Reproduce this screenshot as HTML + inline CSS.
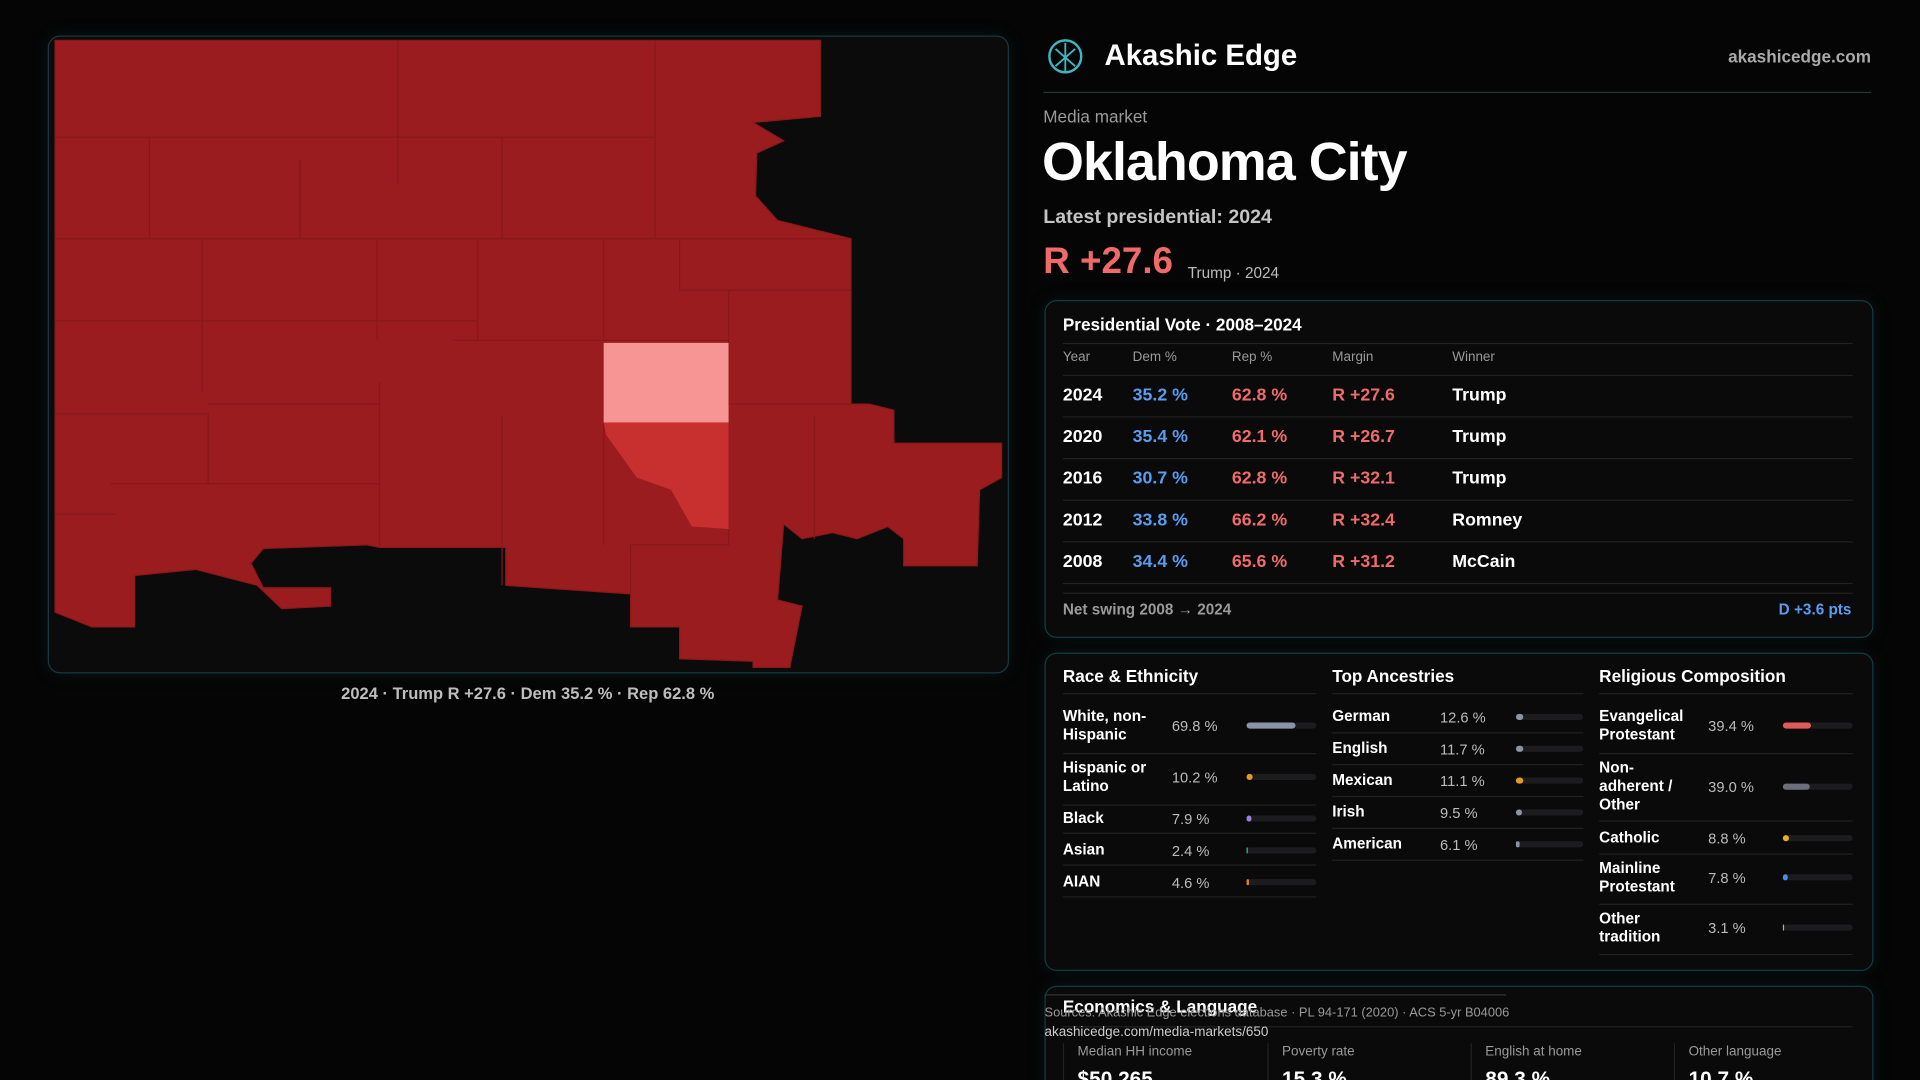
<!DOCTYPE html>
<html><head><meta charset="utf-8"><style>
html,body{margin:0;padding:0;background:#050505;overflow:hidden;width:1920px;height:1080px}
#w{position:absolute;left:0;top:0;width:1568px;height:882px;overflow:hidden;transform:scale(1.22449);transform-origin:0 0;font-family:"Liberation Sans",sans-serif;color:#fff}
.a{position:absolute;white-space:nowrap}
.card{position:absolute;border:1px solid #123c42;border-radius:10px;background:#0a0a0b;box-shadow:0 0 14px rgba(30,90,100,.18)}
.hl{position:absolute;height:1px;background:#222}
.g{color:#9a9a9a}
.b{color:#5a9cf0}.r{color:#f06a6a}
.bar{position:absolute;height:5px;border-radius:3px;background:#1c1c1f}
.bar i{position:absolute;left:0;top:0;height:5px;border-radius:3px}
.row{font-size:12.5px;font-weight:bold;line-height:15px}
.val{font-size:12px;color:#bbb}
</style></head><body><div id="w">
<div class="card" style="left:39px;top:29px;width:783px;height:519px;background:#0b0b0b;border-color:#163a40"></div>
<svg class="a" style="left:0;top:0" width="1568" height="882" viewBox="0 0 1568 882">
<polygon fill="#9b1c1f" stroke="#8a181b" stroke-width="1" points="45,33 670,33 670,95 615,100 640,115 618,125 617,160 635,180 695,195 695,330 710,330 730,335 730,362 818,362 818,390 800,400 798,462 738,462 738,440 725,430 700,440 680,435 655,440 640,428 635,490 655,495 645,545 615,545 615,540 555,538 555,512 515,512 515,485 413,478 413,447 310,447 300,445 215,448 205,460 215,480 270,480 270,495 230,497 210,478 160,465 110,470 110,512 75,512 45,500"/>
<g stroke="#86171a" stroke-width="1" fill="none">
<path d="M45,112 H410 M122,112 V195 M45,195 H695 M245,130 V195 M325,33 V150 M410,112 V195 M535,33 V195 M410,112 H535 M165,195 V320 M45,262 H165 M308,195 V278 M390,195 V278 M493,195 V278 M555,195 V237 H695 M165,262 H390 M370,278 H595 V330 M595,237 V330 M45,338 H170 V395 M310,312 V447 M170,330 H310 M410,340 V478 M493,345 V445 M595,330 H695 M595,432 V445 H515 V485 M90,395 H310 M665,340 V440 M45,420 H95"/>
</g>
<rect x="493" y="280" width="102" height="65" fill="#f79494"/>
<polygon fill="#c8302f" points="493,345 595,345 595,432 565,430 548,400 520,390 495,355"/>
<text x="431" y="571" fill="#bdbdbd" font-size="13.5" text-anchor="middle" font-family="Liberation Sans" font-weight="bold">2024 · Trump R +27.6 · Dem 35.2 % · Rep 62.8 %</text>
<circle cx="870" cy="46" r="13" fill="none" stroke="#3fb6c0" stroke-width="2"/>
<path d="M870,35 V58 M862,40 L878,54 M878,40 L862,54" stroke="#3fb6c0" stroke-width="1.5" fill="none"/>
</svg>
<div class="a" style="left:902px;top:32px;font-size:24px;font-weight:bold">Akashic Edge</div>
<div class="a" style="right:40px;top:38px;font-size:14px;font-weight:bold;color:#aaa">akashicedge.com</div>
<div class="hl" style="left:852px;top:75px;width:676px;background:#1b3a3e"></div>
<div class="a g" style="left:852px;top:87px;font-size:14px">Media market</div>
<div class="a" style="left:851px;top:108px;font-size:44px;font-weight:bold;letter-spacing:-0.8px">Oklahoma City</div>
<div class="a" style="left:852px;top:169px;font-size:16px;font-weight:bold;color:#c4c4c4">Latest presidential: 2024</div>
<div class="a r" style="left:852px;top:197px;font-size:30px;font-weight:bold">R +27.6</div>
<div class="a" style="left:970px;top:216px;font-size:12.5px;color:#bbb">Trump · 2024</div>

<div class="card" style="left:853px;top:245px;width:675px;height:274px"></div>
<div class="a" style="left:868px;top:257px;font-size:14px;font-weight:bold">Presidential Vote · 2008–2024</div>
<div class="hl" style="left:868px;top:280px;width:645px"></div>
<div class="a g" style="left:868px;top:286px;font-size:11px">Year</div>
<div class="a g" style="left:925px;top:286px;font-size:11px">Dem %</div>
<div class="a g" style="left:1006px;top:286px;font-size:11px">Rep %</div>
<div class="a g" style="left:1088px;top:286px;font-size:11px">Margin</div>
<div class="a g" style="left:1186px;top:286px;font-size:11px">Winner</div>
<div class="hl" style="left:868px;top:306px;width:645px"></div>
<div class="hl" style="left:868px;top:340px;width:645px"></div>
<div class="hl" style="left:868px;top:374px;width:645px"></div>
<div class="hl" style="left:868px;top:408px;width:645px"></div>
<div class="hl" style="left:868px;top:442px;width:645px"></div>
<div class="hl" style="left:868px;top:476px;width:645px"></div>
<div class="hl" style="left:868px;top:484px;width:645px"></div>
<div style="position:absolute;left:0;top:1px;font-size:14.5px;font-weight:bold">
<div class="a" style="left:868px;top:314px">2024</div><div class="a b" style="left:925px;top:314px">35.2 %</div><div class="a r" style="left:1006px;top:314px">62.8 %</div><div class="a r" style="left:1088px;top:314px">R +27.6</div><div class="a" style="left:1186px;top:314px">Trump</div>
<div class="a" style="left:868px;top:348px">2020</div><div class="a b" style="left:925px;top:348px">35.4 %</div><div class="a r" style="left:1006px;top:348px">62.1 %</div><div class="a r" style="left:1088px;top:348px">R +26.7</div><div class="a" style="left:1186px;top:348px">Trump</div>
<div class="a" style="left:868px;top:382px">2016</div><div class="a b" style="left:925px;top:382px">30.7 %</div><div class="a r" style="left:1006px;top:382px">62.8 %</div><div class="a r" style="left:1088px;top:382px">R +32.1</div><div class="a" style="left:1186px;top:382px">Trump</div>
<div class="a" style="left:868px;top:416px">2012</div><div class="a b" style="left:925px;top:416px">33.8 %</div><div class="a r" style="left:1006px;top:416px">66.2 %</div><div class="a r" style="left:1088px;top:416px">R +32.4</div><div class="a" style="left:1186px;top:416px">Romney</div>
<div class="a" style="left:868px;top:450px">2008</div><div class="a b" style="left:925px;top:450px">34.4 %</div><div class="a r" style="left:1006px;top:450px">65.6 %</div><div class="a r" style="left:1088px;top:450px">R +31.2</div><div class="a" style="left:1186px;top:450px">McCain</div>
</div>
<div class="a g" style="left:868px;top:491px;font-size:12.5px;font-weight:bold">Net swing 2008 → 2024</div>
<div class="a b" style="right:56px;top:491px;font-size:12.5px;font-weight:bold">D +3.6 pts</div>

<div class="card" style="left:853px;top:533px;width:675px;height:258px"></div>
<div class="a" style="left:868px;top:544px;font-size:14px;font-weight:bold">Race &amp; Ethnicity</div>
<div class="a" style="left:1088px;top:544px;font-size:14px;font-weight:bold">Top Ancestries</div>
<div class="a" style="left:1306px;top:544px;font-size:14px;font-weight:bold">Religious Composition</div>
<div class="hl" style="left:868px;top:566px;width:207px"></div>
<div class="hl" style="left:1088px;top:566px;width:205px"></div>
<div class="hl" style="left:1306px;top:566px;width:207px"></div>

<div class="a row" style="left:868px;top:578px">White, non-<br>Hispanic</div><div class="a val" style="left:957px;top:586px">69.8 %</div><div class="bar" style="left:1018px;top:590px;width:57px"><i style="width:40px;background:#8a94a6"></i></div>
<div class="hl" style="left:868px;top:615px;width:207px"></div>
<div class="a row" style="left:868px;top:620px">Hispanic or<br>Latino</div><div class="a val" style="left:957px;top:628px">10.2 %</div><div class="bar" style="left:1018px;top:632px;width:57px"><i style="width:5px;background:#e69a1a"></i></div>
<div class="hl" style="left:868px;top:657px;width:207px"></div>
<div class="a row" style="left:868px;top:661px">Black</div><div class="a val" style="left:957px;top:662px">7.9 %</div><div class="bar" style="left:1018px;top:666px;width:57px"><i style="width:4px;background:#9b7fe0"></i></div>
<div class="hl" style="left:868px;top:680px;width:207px"></div>
<div class="a row" style="left:868px;top:687px">Asian</div><div class="a val" style="left:957px;top:688px">2.4 %</div><div class="bar" style="left:1018px;top:692px;width:57px"><i style="width:1px;background:#2ec4a0"></i></div>
<div class="hl" style="left:868px;top:706px;width:207px"></div>
<div class="a row" style="left:868px;top:713px">AIAN</div><div class="a val" style="left:957px;top:714px">4.6 %</div><div class="bar" style="left:1018px;top:718px;width:57px"><i style="width:2px;background:#e0801a"></i></div>
<div class="hl" style="left:868px;top:732px;width:207px"></div>

<div class="a row" style="left:1088px;top:578px">German</div><div class="a val" style="left:1176px;top:579px">12.6 %</div><div class="bar" style="left:1238px;top:583px;width:55px"><i style="width:6px;background:#8a94a6"></i></div>
<div class="hl" style="left:1088px;top:598px;width:205px"></div>
<div class="a row" style="left:1088px;top:604px">English</div><div class="a val" style="left:1176px;top:605px">11.7 %</div><div class="bar" style="left:1238px;top:609px;width:55px"><i style="width:6px;background:#8a94a6"></i></div>
<div class="hl" style="left:1088px;top:624px;width:205px"></div>
<div class="a row" style="left:1088px;top:630px">Mexican</div><div class="a val" style="left:1176px;top:631px">11.1 %</div><div class="bar" style="left:1238px;top:635px;width:55px"><i style="width:6px;background:#e69a1a"></i></div>
<div class="hl" style="left:1088px;top:650px;width:205px"></div>
<div class="a row" style="left:1088px;top:656px">Irish</div><div class="a val" style="left:1176px;top:657px">9.5 %</div><div class="bar" style="left:1238px;top:661px;width:55px"><i style="width:5px;background:#8a94a6"></i></div>
<div class="hl" style="left:1088px;top:676px;width:205px"></div>
<div class="a row" style="left:1088px;top:682px">American</div><div class="a val" style="left:1176px;top:683px">6.1 %</div><div class="bar" style="left:1238px;top:687px;width:55px"><i style="width:3px;background:#8a94a6"></i></div>
<div class="hl" style="left:1088px;top:702px;width:205px"></div>

<div class="a row" style="left:1306px;top:578px">Evangelical<br>Protestant</div><div class="a val" style="left:1395px;top:586px">39.4 %</div><div class="bar" style="left:1456px;top:590px;width:57px"><i style="width:23px;background:#e05a5a"></i></div>
<div class="hl" style="left:1306px;top:615px;width:207px"></div>
<div class="a row" style="left:1306px;top:620px">Non-<br>adherent /<br>Other</div><div class="a val" style="left:1395px;top:636px">39.0 %</div><div class="bar" style="left:1456px;top:640px;width:57px"><i style="width:22px;background:#6a6f7a"></i></div>
<div class="hl" style="left:1306px;top:670px;width:207px"></div>
<div class="a row" style="left:1306px;top:677px">Catholic</div><div class="a val" style="left:1395px;top:678px">8.8 %</div><div class="bar" style="left:1456px;top:682px;width:57px"><i style="width:5px;background:#e6b020"></i></div>
<div class="hl" style="left:1306px;top:697px;width:207px"></div>
<div class="a row" style="left:1306px;top:702px">Mainline<br>Protestant</div><div class="a val" style="left:1395px;top:710px">7.8 %</div><div class="bar" style="left:1456px;top:714px;width:57px"><i style="width:4px;background:#4a8ae8"></i></div>
<div class="hl" style="left:1306px;top:738px;width:207px"></div>
<div class="a row" style="left:1306px;top:743px">Other<br>tradition</div><div class="a val" style="left:1395px;top:751px">3.1 %</div><div class="bar" style="left:1456px;top:755px;width:57px"><i style="width:1px;background:#aaa"></i></div>
<div class="hl" style="left:1306px;top:779px;width:207px"></div>

<div class="card" style="left:853px;top:805px;width:675px;height:100px"></div>
<div class="hl" style="left:853px;top:812px;width:377px;background:#333"></div>
<div class="a" style="left:868px;top:814px;font-size:14px;font-weight:bold">Economics &amp; Language</div>
<div class="a g" style="left:853px;top:821px;font-size:10.5px">Sources: Akashic Edge elections database · PL 94-171 (2020) · ACS 5-yr B04006</div>
<div class="hl" style="left:868px;top:838px;width:645px"></div>
<div class="a" style="left:853px;top:837px;font-size:11px;color:#ccc">akashicedge.com/media-markets/650</div>
<div class="a" style="left:868px;top:852px;width:1px;height:40px;background:#222"></div>
<div class="a" style="left:1035px;top:852px;width:1px;height:40px;background:#222"></div>
<div class="a" style="left:1201px;top:852px;width:1px;height:40px;background:#222"></div>
<div class="a" style="left:1367px;top:852px;width:1px;height:40px;background:#222"></div>
<div class="a g" style="left:880px;top:853px;font-size:11px">Median HH income</div>
<div class="a g" style="left:1047px;top:853px;font-size:11px">Poverty rate</div>
<div class="a g" style="left:1213px;top:853px;font-size:11px">English at home</div>
<div class="a g" style="left:1379px;top:853px;font-size:11px">Other language</div>
<div class="a" style="left:880px;top:872px;font-size:17px;font-weight:bold">$50,265</div>
<div class="a" style="left:1047px;top:872px;font-size:17px;font-weight:bold">15.3 %</div>
<div class="a" style="left:1213px;top:872px;font-size:17px;font-weight:bold">89.3 %</div>
<div class="a" style="left:1379px;top:872px;font-size:17px;font-weight:bold">10.7 %</div>
</div></body></html>
